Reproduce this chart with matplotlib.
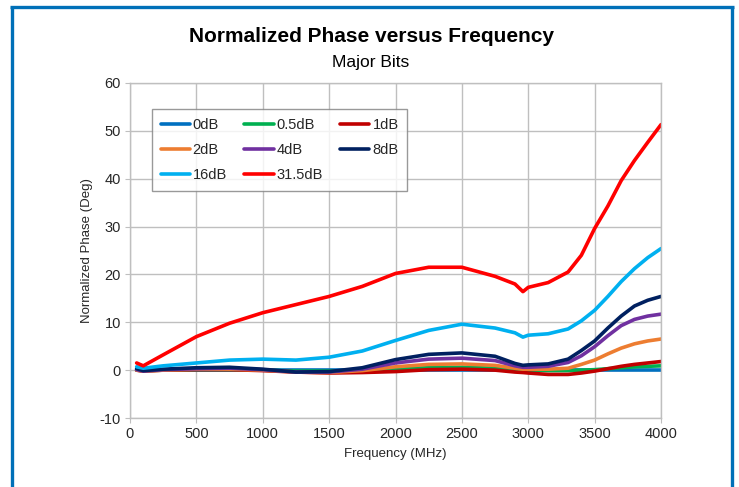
import numpy as np
import matplotlib
matplotlib.use("Agg")
import matplotlib.pyplot as plt
from matplotlib.lines import Line2D

plt.rcParams['font.family'] = ['Liberation Sans', 'DejaVu Sans']
plt.rcParams['axes.unicode_minus'] = False

# frequency points (MHz) shared by all curves
freq = [50, 100, 250, 500, 750, 1000, 1250, 1500, 1750, 2000, 2250, 2500,
        2750, 2900, 2960, 3000, 3150, 3300, 3400, 3500, 3600, 3700, 3800, 3900, 4000]

labels = ['0dB', '0.5dB', '1dB', '2dB', '4dB', '8dB', '16dB', '31.5dB']
colors = ['#0070C0', '#00B050', '#C00000', '#ED7D31', '#7030A0', '#002060', '#00B0F0', '#FF0000']

ph_0 = [0.0] * len(freq)
ph_05 = [0.0, -0.1, 0.0, 0.1, 0.1, 0.0, -0.2, -0.2, 0.0, 0.3, 0.5, 0.6,
         0.4, 0.1, 0.0, 0.0, -0.1, -0.1, 0.0, 0.1, 0.3, 0.5, 0.7, 0.8, 0.9]
ph_1 = [0.0, -0.2, 0.0, 0.1, 0.1, -0.1, -0.4, -0.6, -0.5, -0.3, 0.1, 0.2,
        0.0, -0.4, -0.5, -0.6, -0.9, -0.9, -0.6, -0.2, 0.3, 0.8, 1.2, 1.5, 1.8]
ph_2 = [0.0, -0.2, 0.0, 0.2, 0.2, 0.0, -0.4, -0.5, -0.1, 0.7, 1.2, 1.3,
        1.0, 0.4, 0.2, 0.2, 0.2, 0.4, 1.2, 2.1, 3.4, 4.6, 5.5, 6.1, 6.5]
ph_4 = [0.1, -0.2, 0.1, 0.3, 0.4, 0.1, -0.4, -0.4, 0.2, 1.5, 2.3, 2.5,
        2.0, 0.9, 0.6, 0.6, 0.8, 1.6, 3.0, 4.9, 7.2, 9.3, 10.6, 11.3, 11.7]
ph_8 = [0.3, -0.1, 0.2, 0.5, 0.6, 0.2, -0.4, -0.3, 0.5, 2.2, 3.3, 3.6,
        2.9, 1.4, 1.0, 1.1, 1.3, 2.3, 4.1, 6.1, 8.8, 11.3, 13.4, 14.6, 15.4]
ph_16 = [0.7, 0.4, 0.9, 1.5, 2.1, 2.3, 2.1, 2.7, 4.0, 6.2, 8.3, 9.6,
         8.8, 7.8, 6.9, 7.3, 7.6, 8.6, 10.3, 12.5, 15.4, 18.5, 21.2, 23.5, 25.4]
ph_315 = [1.5, 0.9, 3.2, 7.0, 9.8, 12.0, 13.7, 15.4, 17.5, 20.2, 21.5, 21.5,
          19.6, 18.0, 16.4, 17.3, 18.3, 20.5, 24.0, 29.6, 34.3, 39.6, 43.8, 47.6, 51.3]

series = [ph_0, ph_05, ph_1, ph_2, ph_4, ph_8, ph_16, ph_315]

W, H = 739, 487
fig = plt.figure(figsize=(W / 100, H / 100), dpi=100)
ax = fig.add_axes([130 / W, 1 - 418 / H, 531 / W, 335 / H])

lines = []
for vals, lab, col in zip(series, labels, colors):
    ln, = ax.plot(freq, vals, color=col, lw=2.6, label=lab,
                  solid_capstyle='round', solid_joinstyle='round')
    lines.append(ln)

ax.set_xlim(0, 4000)
ax.set_ylim(-10, 60)
ax.set_xticks(np.arange(0, 4001, 500))
ax.set_yticks(np.arange(-10, 61, 10))
ax.grid(True, color='#BFBFBF', lw=1.0)
ax.set_axisbelow(True)
for s in ax.spines.values():
    s.set_color('#BFBFBF')
    s.set_linewidth(1.0)
ax.tick_params(length=3.5, color='#BFBFBF', labelsize=10.5, labelcolor='#262626', pad=3)

ax.set_xlabel('Frequency (MHz)', fontsize=9.5, color='#262626', labelpad=5)
ax.set_ylabel('Normalized Phase (Deg)', fontsize=9.5, color='#262626')
ax.yaxis.set_label_coords(-0.07, 0.5)

# Excel fills the legend row by row, matplotlib column by column
order = [0, 3, 6, 1, 4, 7, 2, 5]
leg = ax.legend([lines[i] for i in order], [labels[i] for i in order],
                ncol=3, loc='upper left', bbox_to_anchor=(0.041, 0.922),
                fontsize=10.5, frameon=True, fancybox=False, handlelength=2.0,
                handletextpad=0.2, columnspacing=1.2, labelspacing=0.75,
                borderpad=0.6, borderaxespad=0)
leg.get_frame().set_edgecolor('#808080')
leg.get_frame().set_linewidth(1.0)
for t in leg.get_texts():
    t.set_color('#262626')

fig.text(371.5 / W, 1 - 37 / H, 'Normalized Phase versus Frequency',
         ha='center', va='center', fontsize=15, fontweight='bold', color='black')
fig.text(370.5 / W, 1 - 62 / H, 'Major Bits',
         ha='center', va='center', fontsize=12.5, color='black')

# blue frame around the chart (open at the bottom)
bc = '#0070B8'
def px(x, y):
    return x / W, 1 - y / H
for (x0, y0), (x1, y1) in [((11.5, 6.5), (11.5, 490)),
                           ((10, 6.5), (733.5, 6.5)),
                           ((732, 6.5), (732, 490))]:
    a, b = px(x0, y0)
    c, d = px(x1, y1)
    fig.add_artist(Line2D([a, c], [b, d], transform=fig.transFigure,
                          color=bc, lw=2.4, solid_capstyle='butt'))

fig.savefig('out.png', dpi=100)
